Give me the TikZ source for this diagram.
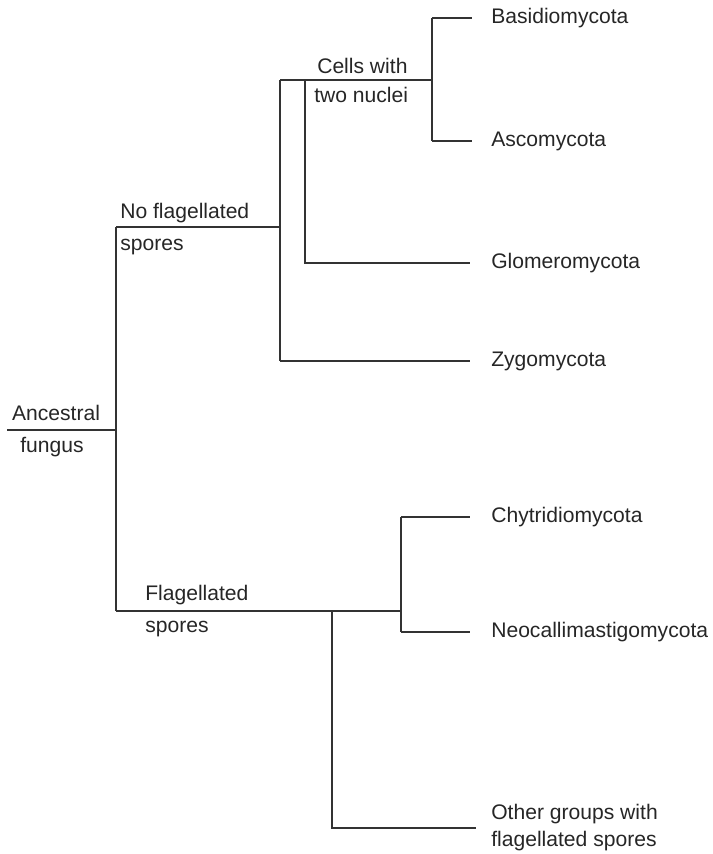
\documentclass[tikz,border=0pt]{standalone}
\usepackage{fontspec}
\setmainfont{Liberation Sans}
\usetikzlibrary{positioning}

\begin{document}
\begin{tikzpicture}[x=0.025cm,y=-0.025cm,
  branch/.style={draw=black!80,line width=0.9pt},
  taxon/.style={anchor=west,font=\fontsize{15}{19.2}\selectfont,text=black!85,inner sep=0pt,align=left},
  trait/.style={anchor=base west,font=\fontsize{15}{19.2}\selectfont,text=black!85,inner sep=0pt}]
\useasboundingbox (0,0) rectangle (712,854);

% junctions
\coordinate (root) at (7,430);
\coordinate (A) at (116,430);
\coordinate (Atop) at (116,227);
\coordinate (Abot) at (116,611);
\coordinate (B) at (280,227);
\coordinate (Btop) at (280,80);
\coordinate (Bbot) at (280,361);
\coordinate (C) at (305,80);
\coordinate (Cbot) at (305,263);
\coordinate (D) at (432,80);
\coordinate (Dtop) at (432,18);
\coordinate (Dbot) at (432,141);
\coordinate (E) at (332,611);
\coordinate (Ebot) at (332,828);
\coordinate (F) at (401,611);
\coordinate (Ftop) at (401,517);
\coordinate (Fbot) at (401,632);

% tips
\coordinate (tBas) at (472,18);
\coordinate (tAsc) at (472,141);
\coordinate (tGlo) at (470,263);
\coordinate (tZyg) at (470,361);
\coordinate (tChy) at (470,517);
\coordinate (tNeo) at (470,632);
\coordinate (tOth) at (476,828);

\node[taxon,right=0.475cm of tBas] (basidio) {Basidiomycota};
\node[taxon,right=0.475cm of tAsc] (asco) {Ascomycota};
\node[taxon,right=0.525cm of tGlo] (glomero) {Glomeromycota};
\node[taxon,right=0.525cm of tZyg] (zygo) {Zygomycota};
\node[taxon,right=0.525cm of tChy] (chytrid) {Chytridiomycota};
\node[taxon,right=0.525cm of tNeo] (neocal) {Neocallimastigomycota};
\node[taxon,right=0.375cm of tOth] (other) {Other groups with\\flagellated spores};

% traits on the branches
\node[trait,anchor=base] (anc1) at (56,420) {Ancestral};
\node[trait,anchor=base] (anc2) at (52,452) {fungus};
\node[trait] (nof1) at (120,218) {No flagellated};
\node[trait] (nof2) at (120,250) {spores};
\node[trait] (cell1) at (317,73) {Cells with};
\node[trait] (cell2) at (314,102) {two nuclei};
\node[trait] (fla1) at (145,600) {Flagellated};
\node[trait] (fla2) at (145,632) {spores};

\draw[branch] (root) -- (A);
\draw[branch] (Atop) -- (Abot);
\draw[branch] (Atop) -- (B);
\draw[branch] (Btop) -- (Bbot);
\draw[branch] (Btop) -- (D);
\draw[branch] (C) -- (Cbot) -- (tGlo);
\draw[branch] (Bbot) -- (tZyg);
\draw[branch] (Dtop) -- (Dbot);
\draw[branch] (Dtop) -- (tBas);
\draw[branch] (Dbot) -- (tAsc);
\draw[branch] (Abot) -- (F);
\draw[branch] (Ftop) -- (Fbot);
\draw[branch] (Ftop) -- (tChy);
\draw[branch] (Fbot) -- (tNeo);
\draw[branch] (E) -- (Ebot) -- (tOth);

\end{tikzpicture}
\end{document}
